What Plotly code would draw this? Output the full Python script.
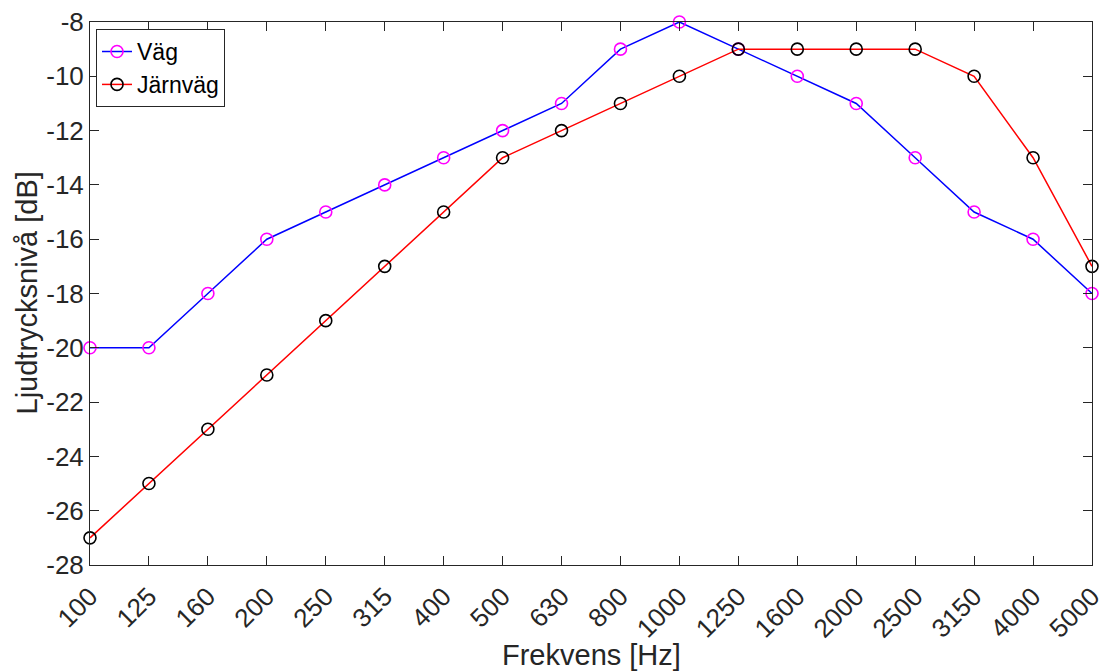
import plotly.graph_objects as go

freqs = ["100", "125", "160", "200", "250", "315", "400", "500", "630", "800",
         "1000", "1250", "1600", "2000", "2500", "3150", "4000", "5000"]
vag = [-20, -20, -18, -16, -15, -14, -13, -12, -11, -9, -8, -9, -10, -11, -13, -15, -16, -18]
jarnvag = [-27, -25, -23, -21, -19, -17, -15, -13, -12, -11, -10, -9, -9, -9, -9, -10, -13, -17]
yticks = list(range(-28, -7, 2))

x = list(range(len(freqs)))
FONT = "Liberation Sans, Arial, Helvetica, sans-serif"

fig = go.Figure()
fig.add_trace(go.Scatter(
    x=x, y=vag, name="Väg", mode="lines+markers", cliponaxis=False,
    line=dict(color="#0000FF", width=1.5),
    marker=dict(symbol="circle-open", size=12, color="#FF00FF", line=dict(width=1.6, color="#FF00FF")),
))
fig.add_trace(go.Scatter(
    x=x, y=jarnvag, name="Järnväg", mode="lines+markers", cliponaxis=False,
    line=dict(color="#FF0000", width=1.5),
    marker=dict(symbol="circle-open", size=12, color="#000000", line=dict(width=1.6, color="#000000")),
))

axis_common = dict(
    showgrid=False, zeroline=False, showline=True, linecolor="#262626", linewidth=1,
    mirror="ticks", ticks="inside", ticklen=9, tickcolor="#262626", tickwidth=1,
    tickfont=dict(family=FONT, size=26, color="#262626"),
    ticklabeloverflow="allow", automargin=False,
)

fig.update_layout(
    width=1108, height=671,
    margin=dict(l=82, r=24, t=14, b=114, autoexpand=False),
    paper_bgcolor="white", plot_bgcolor="white",
    showlegend=True,
    legend=dict(
        x=0.006, y=0.987, xanchor="left", yanchor="top",
        bgcolor="white", bordercolor="#262626", borderwidth=1,
        font=dict(family=FONT, size=23, color="#000000"),
        tracegroupgap=0, itemwidth=30,
    ),
    xaxis=dict(
        **axis_common,
        range=[0, len(freqs) - 1],
        tickmode="array", tickvals=x, ticktext=freqs, tickangle=-45,
        ticklabelstandoff=5,
    ),
    yaxis=dict(
        **axis_common,
        range=[-28, -8],
        tickmode="array", tickvals=yticks, ticktext=[str(v) for v in yticks],
    ),
    annotations=[
        dict(text="Frekvens [Hz]", xref="paper", yref="paper", x=0.5, y=0,
             xanchor="center", yanchor="middle", yshift=-90, showarrow=False,
             font=dict(family=FONT, size=29, color="#262626")),
        dict(text="Ljudtrycksnivå [dB]", xref="paper", yref="paper", x=0, y=0.5,
             xanchor="center", yanchor="middle", xshift=-64, textangle=-90, showarrow=False,
             font=dict(family=FONT, size=29, color="#262626")),
    ],
)

fig.write_html("out.html")
